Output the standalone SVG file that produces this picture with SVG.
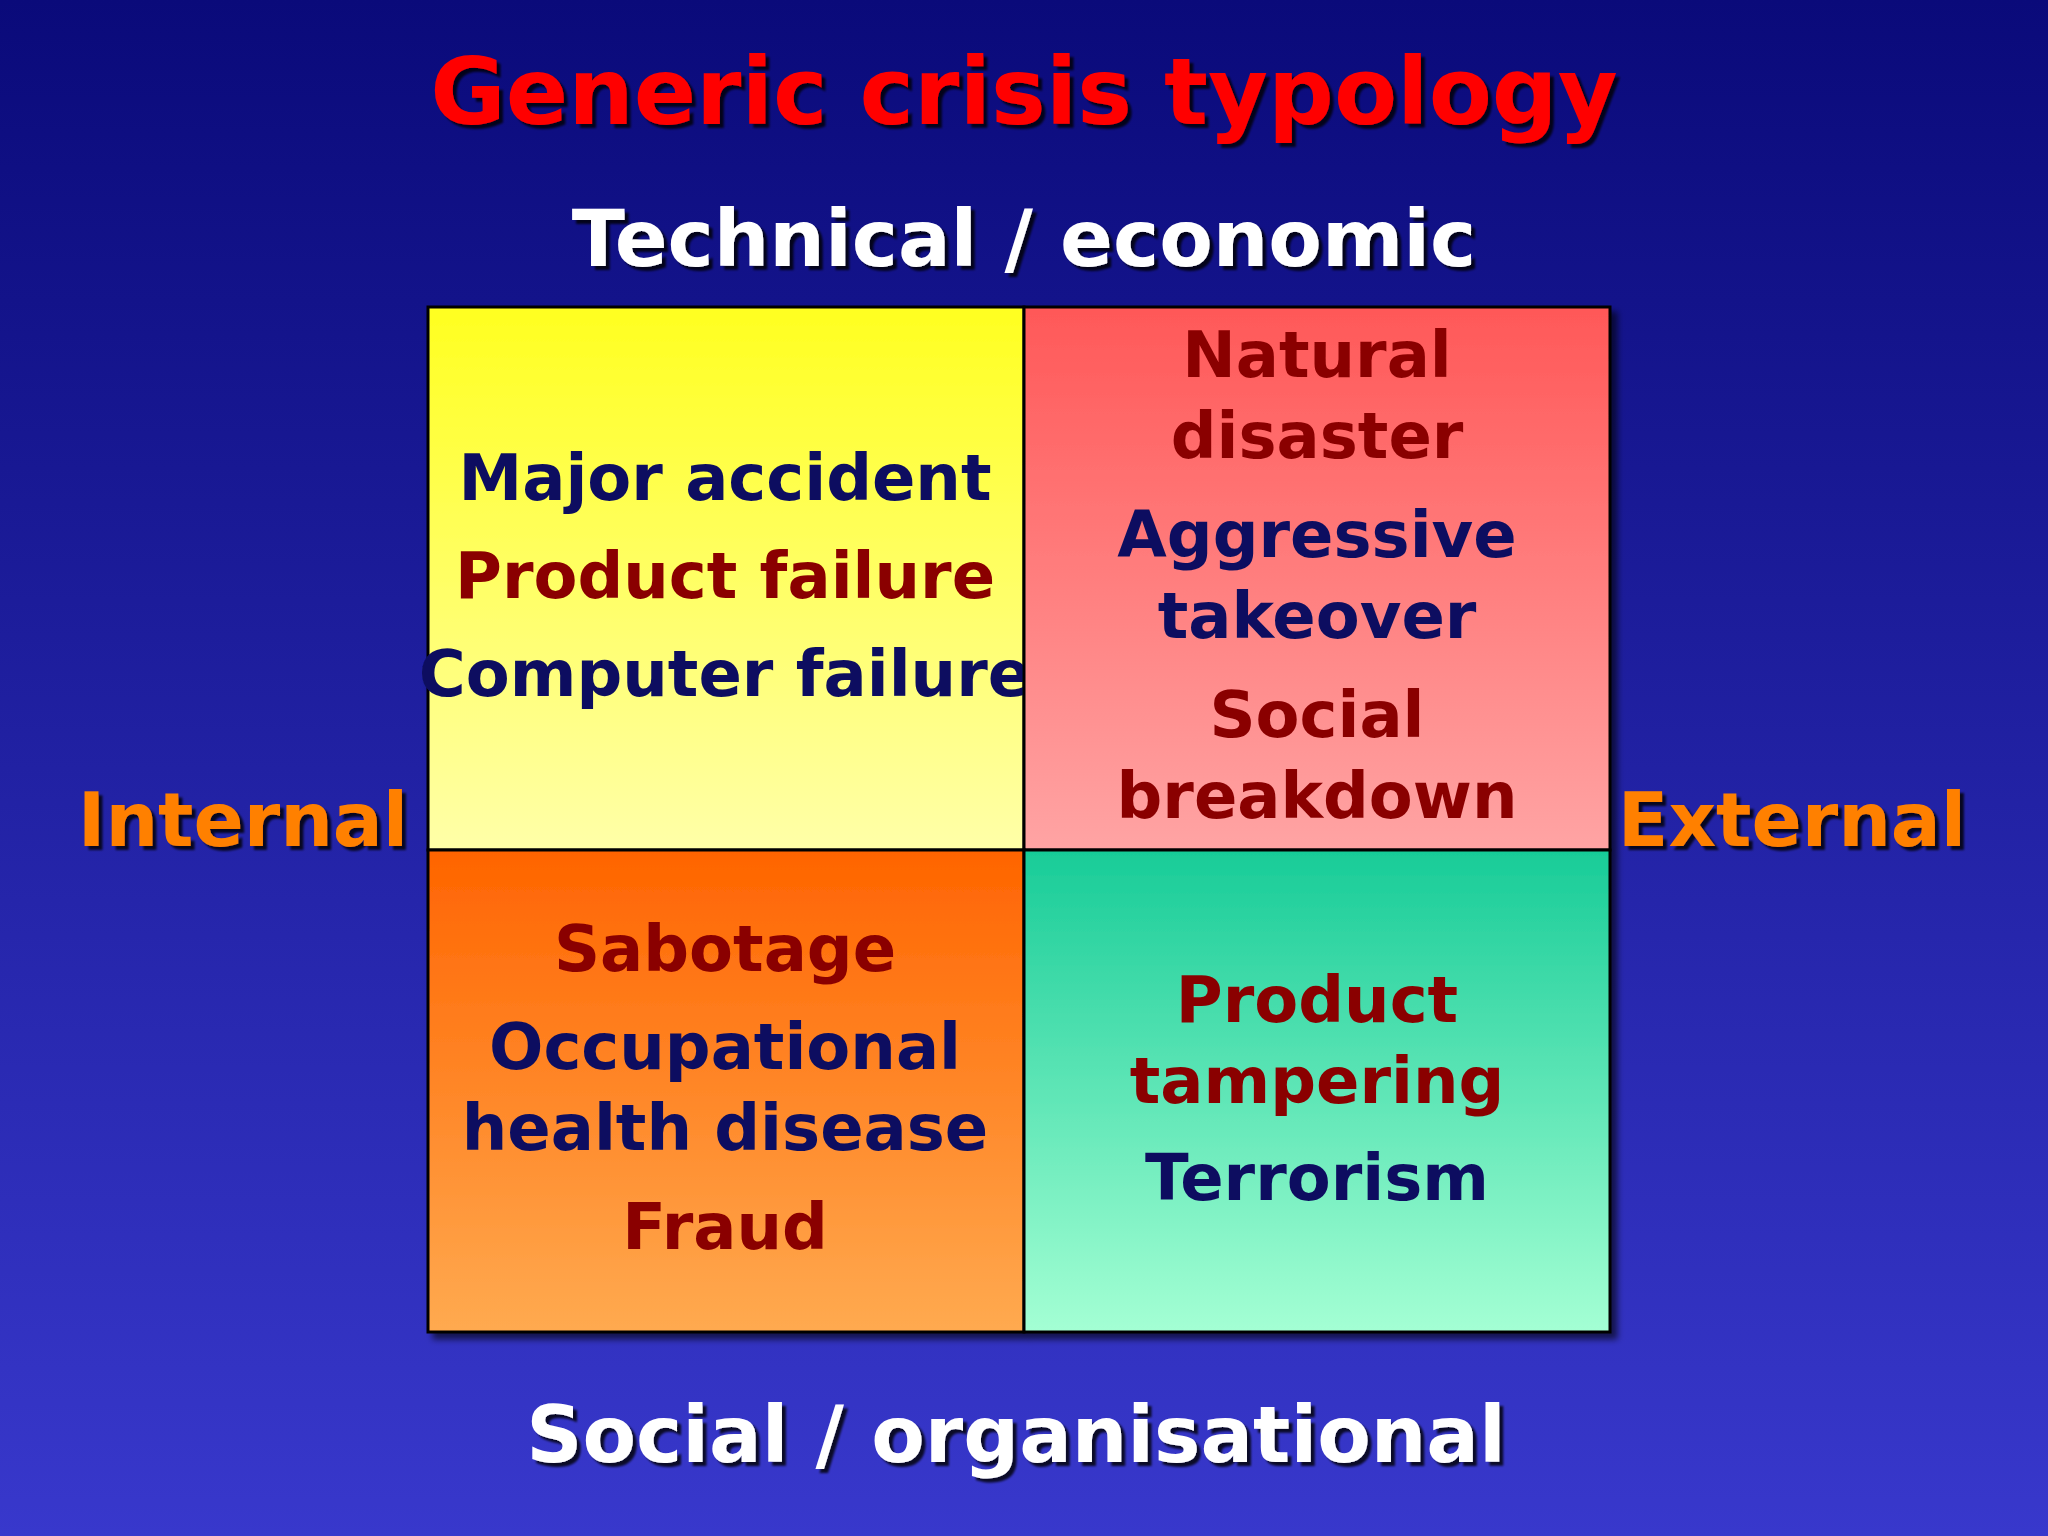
<svg xmlns="http://www.w3.org/2000/svg" width="2048" height="1536" viewBox="0 0 2048 1536">
<defs>
<linearGradient id="bg" x1="0" y1="0" x2="0" y2="1"><stop offset="0" stop-color="#0a0a7a"/><stop offset="1" stop-color="#3838cc"/></linearGradient>
<linearGradient id="gy" x1="0" y1="0" x2="0" y2="1"><stop offset="0" stop-color="#ffff20"/><stop offset="1" stop-color="#ffffa8"/></linearGradient>
<linearGradient id="gr" x1="0" y1="0" x2="0" y2="1"><stop offset="0" stop-color="#ff5858"/><stop offset="1" stop-color="#ffa4a4"/></linearGradient>
<linearGradient id="go" x1="0" y1="0" x2="0" y2="1"><stop offset="0" stop-color="#ff6400"/><stop offset="1" stop-color="#ffaa50"/></linearGradient>
<linearGradient id="gg" x1="0" y1="0" x2="0" y2="1"><stop offset="0" stop-color="#18cc98"/><stop offset="1" stop-color="#a4ffd4"/></linearGradient>
<filter id="sh" x="-10%" y="-10%" width="130%" height="130%"><feDropShadow dx="4" dy="4" stdDeviation="1" flood-color="#000" flood-opacity="0.8"/></filter>
<filter id="bs" x="-5%" y="-5%" width="110%" height="110%"><feDropShadow dx="6" dy="6" stdDeviation="3" flood-color="#000" flood-opacity="0.6"/></filter>
</defs>
<style>
text{font-family:"Comic Sans MS","DejaVu Sans",sans-serif;font-weight:bold;text-anchor:middle}
.h{fill:#fff;font-size:78px;filter:url(#sh)}
.s{fill:#ff8000;font-size:74px;filter:url(#sh)}
.c{font-size:64px}
.b{fill:#0c1060}.r{fill:#8a0000}
.cell{stroke:#000;stroke-width:3}
</style>
<rect width="2048" height="1536" fill="url(#bg)"/>
<text x="1024" y="124" fill="#ff0000" font-size="92" filter="url(#sh)">Generic crisis typology</text>
<text class="h" x="1024" y="266">Technical / economic</text>
<text class="h" x="1016" y="1462">Social / organisational</text>
<text class="s" x="243" y="846">Internal</text>
<text class="s" x="1792" y="846">External</text>
<g filter="url(#bs)">
<g id="tl"><rect class="cell" x="428" y="307" width="596" height="543" fill="url(#gy)"/>
<text class="c b" x="725" y="500">Major accident</text><text class="c r" x="725" y="598">Product failure</text><text class="c b" x="725" y="696">Computer failure</text></g>
<g id="tr"><rect class="cell" x="1024" y="307" width="586" height="543" fill="url(#gr)"/>
<text class="c r" x="1317" y="377">Natural</text><text class="c r" x="1317" y="458">disaster</text><text class="c b" x="1317" y="557">Aggressive</text><text class="c b" x="1317" y="638">takeover</text><text class="c r" x="1317" y="737">Social</text><text class="c r" x="1317" y="818">breakdown</text></g>
<g id="bl"><rect class="cell" x="428" y="850" width="596" height="482" fill="url(#go)"/>
<text class="c r" x="725" y="971">Sabotage</text><text class="c b" x="725" y="1069">Occupational</text><text class="c b" x="725" y="1150">health disease</text><text class="c r" x="725" y="1249">Fraud</text></g>
<g id="br"><rect class="cell" x="1024" y="850" width="586" height="482" fill="url(#gg)"/>
<text class="c r" x="1317" y="1022">Product</text><text class="c r" x="1317" y="1103">tampering</text><text class="c b" x="1317" y="1200">Terrorism</text></g>
</g>
<g id="connectors"/>
</svg>
